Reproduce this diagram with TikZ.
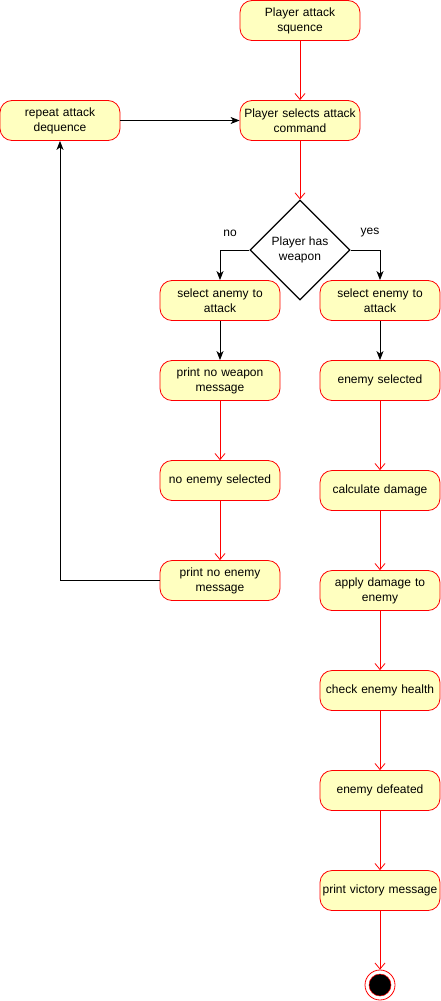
\documentclass[tikz,border=0pt]{standalone}
\usepackage{fontspec}
\setmainfont{Liberation Sans}
\usetikzlibrary{arrows.meta,shapes.geometric}
\definecolor{actfill}{HTML}{FFFFC0}
\definecolor{actline}{HTML}{FF0000}
\begin{document}
\begin{tikzpicture}[x=1pt,y=-1pt,
  act/.style={draw=actline,fill=actfill,rounded corners=12pt,minimum width=120pt,minimum height=40pt,
    text width=116pt,align=center,inner sep=0pt,font=\fontsize{12}{15}\selectfont,line width=0.8pt},
  dec/.style={draw=black,fill=white,diamond,minimum width=100pt,minimum height=100pt,inner sep=0pt,
    align=center,font=\fontsize{12}{15}\selectfont,line width=1.2pt},
  redflow/.style={draw=actline,line width=0.8pt,-{Straight Barb[length=6pt,width=10pt]}},
  blackflow/.style={draw=black,line width=1pt,-{Stealth[length=9pt,width=7pt,inset=2.5pt]}},
  lbl/.style={font=\fontsize{12}{15}\selectfont}
]
\useasboundingbox (0,0) rectangle (441,1001);
\node[act] (start) at (300,20.5) {Player attack\\squence};
\node[act] (cmd) at (300,120.5) {Player selects attack\\command};
\node[act] (rep) at (60,120.5) {repeat attack\\dequence};
\node[dec] (dec) at (300,250) {Player has\\weapon};
\node[act] (sa) at (220,300.5) {select anemy to\\attack};
\node[act] (se) at (380,300.5) {select enemy to\\attack};
\node[act] (pnw) at (220,380.5) {print no weapon\\message};
\node[act] (nes) at (220,480.5) {no enemy selected};
\node[act] (pne) at (220,580.5) {print no enemy\\message};
\node[act] (es) at (380,380.5) {enemy selected};
\node[act] (cd) at (380,490.5) {calculate damage};
\node[act] (ad) at (380,590.5) {apply damage to\\enemy};
\node[act] (ch) at (380,690.5) {check enemy health};
\node[act] (ed) at (380,790.5) {enemy defeated};
\node[act] (pv) at (380,890.5) {print victory message};
\node[circle,draw=actline,fill=white,line width=0.8pt,minimum size=30pt,inner sep=0pt] (end) at (380,985) {};
\node[circle,draw=actline,fill=black,line width=0.5pt,minimum size=22pt,inner sep=0pt] (endin) at (380,985) {};

\draw[redflow] (start) -- (cmd);
\draw[blackflow] (rep) -- (cmd);
\draw[redflow] (cmd) -- (dec.north);
\draw[blackflow] (dec.west) -| (sa.north);
\draw[blackflow] (dec.east) -| (se.north);
\node[lbl] (no) at (230,233) {no};
\node[lbl] (yes) at (370,233) {yes};
\draw[blackflow] (sa) -- (pnw);
\draw[redflow] (pnw) -- (nes);
\draw[redflow] (nes) -- (pne);
\draw[blackflow] (pne.west) -| (rep.south);
\draw[blackflow] (se) -- (es);
\draw[redflow] (es) -- (cd);
\draw[redflow] (cd) -- (ad);
\draw[redflow] (ad) -- (ch);
\draw[redflow] (ch) -- (ed);
\draw[redflow] (ed) -- (pv);
\draw[redflow] (pv) -- (end.north);
\end{tikzpicture}
\end{document}
